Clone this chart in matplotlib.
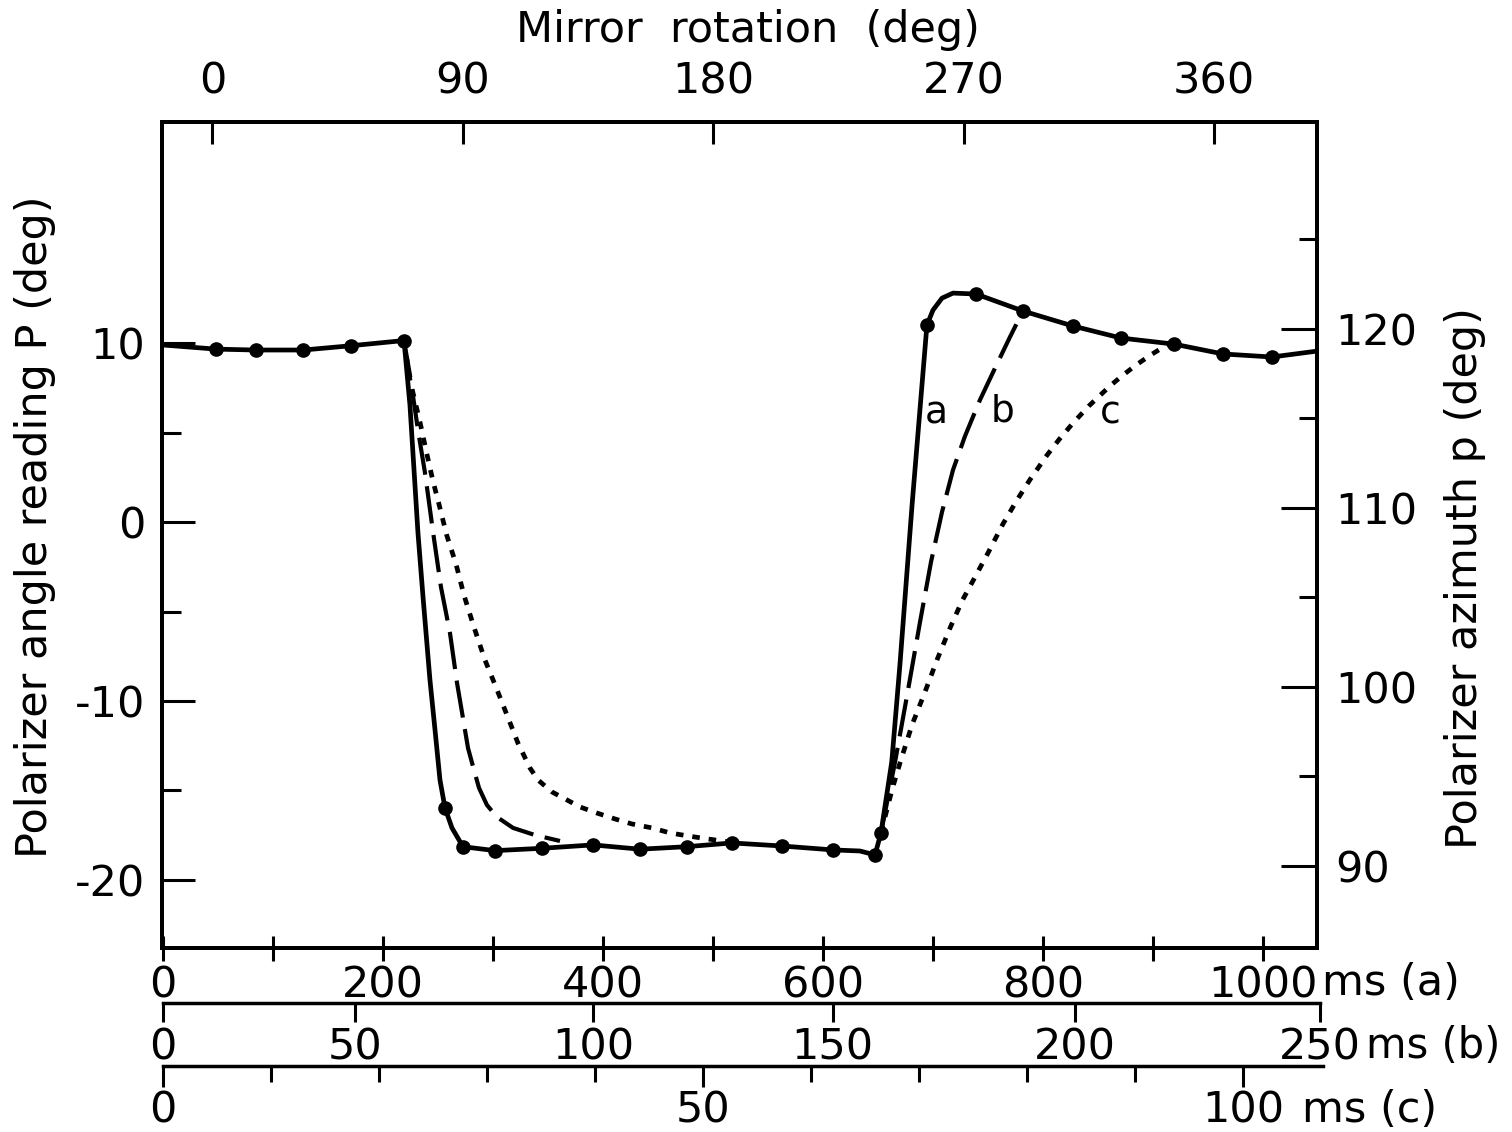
import matplotlib
matplotlib.use('Agg')
import matplotlib.pyplot as plt
from matplotlib.ticker import FixedLocator, NullFormatter

plt.rcParams['font.family'] = ['DejaVu Sans']
plt.rcParams['axes.unicode_minus'] = False

# ---------------- data (time in ms for curve a scale, P in deg) ----------------
a_t = [0, 48.2, 84.3, 127.5, 170.9, 219.1, 224.5, 231.8, 236.4, 242.7, 247.3, 251.8,
       256.4, 262.7, 272.7, 301.8, 344.3, 390.9, 433.6, 476.1, 517.0, 562.5, 609.1,
       633.6, 647.3, 652.7, 662.5, 670.0, 680.9, 694.5, 700.0, 708.2, 718.2, 739.1,
       781.8, 827.3, 870.9, 919.1, 963.6, 1008.2, 1049.1]
a_P = [9.89, 9.66, 9.61, 9.61, 9.85, 10.14, 6.54, -0.61, -4.19, -8.83, -11.62, -14.41,
       -15.98, -17.09, -18.14, -18.36, -18.23, -18.04, -18.28, -18.14, -17.93, -18.10,
       -18.32, -18.38, -18.60, -17.37, -13.41, -7.93, 0.89, 11.01, 11.84, 12.51, 12.79,
       12.74, 11.79, 10.95, 10.28, 9.94, 9.39, 9.22, 9.55]

a_dot_t = [48.2, 84.3, 127.5, 170.9, 219.1, 256.4, 272.7, 301.8, 344.3, 390.9, 433.6,
           476.1, 517.0, 562.5, 609.1, 647.3, 652.7, 694.5, 739.1, 781.8, 827.3, 870.9,
           919.1, 963.6, 1008.2]
a_dot_P = [9.66, 9.61, 9.61, 9.85, 10.14, -15.98, -18.14, -18.36, -18.23, -18.04, -18.28,
           -18.14, -17.93, -18.10, -18.32, -18.60, -17.37, 11.01, 12.74, 11.79, 10.95,
           10.28, 9.94, 9.39, 9.22]

b_down_t = [219.1, 224.5, 231.8, 238.2, 245.5, 252.7, 260.9, 267.3, 272.7, 277.3, 282.7,
            287.3, 294.5, 303.6, 318.2, 338.2, 360.9]
b_down_P = [10.14, 8.21, 5.14, 2.74, -0.56, -3.63, -6.20, -8.99, -10.95, -12.63, -13.85,
            -14.86, -15.81, -16.48, -17.09, -17.49, -17.82]
b_up_t = [652.7, 665.5, 677.3, 688.2, 698.2, 708.2, 718.2, 729.1, 742.7, 756.4, 770.0, 781.8]
b_up_P = [-17.37, -13.41, -9.39, -5.59, -2.23, 0.56, 2.91, 4.80, 6.82, 8.60, 10.34, 11.79]

c_down_t = [219.1, 224.5, 233.6, 239.7, 245.2, 251.8, 257.9, 266.4, 273.6, 282.7, 292.7,
            302.7, 312.7, 322.7, 333.6, 340.9, 353.6, 365.5, 379.1, 394.5, 410.9, 426.4,
            444.5, 460.9, 477.3, 495.5, 515.5]
c_down_P = [10.14, 7.93, 5.59, 3.85, 2.35, 0.78, -0.73, -2.35, -4.08, -5.87, -7.71,
            -9.22, -10.78, -12.35, -13.74, -14.41, -15.08, -15.47, -15.92, -16.26, -16.59,
            -16.87, -17.09, -17.37, -17.54, -17.71, -17.88]
c_up_t = [652.7, 662.7, 670.0, 680.9, 692.7, 703.6, 715.5, 726.4, 737.3, 750.0, 763.6,
          776.4, 788.2, 803.6, 814.5, 827.3, 841.8, 860.9, 872.7, 885.5, 897.3, 907.0, 915.0]
c_up_P = [-17.37, -14.97, -13.46, -11.34, -9.50, -7.71, -5.92, -4.41, -3.18, -1.73, -0.11,
          1.23, 2.37, 3.73, 4.60, 5.53, 6.49, 7.60, 8.21, 8.81, 9.31, 9.68, 9.96]

curve_labels = ['a', 'b', 'c']
curve_label_t = [703.4, 763.4, 860.9]
curve_label_P = [6.05, 6.16, 6.05]

# axis scales / ticks
left_major = [-20, -10, 0, 10]
left_minor = [-15, -5, 5]
right_offset = 109.2            # p = P + offset
right_major = [90, 100, 110, 120]
right_minor = [95, 105, 115, 125]
a_major = [0, 200, 400, 600, 800, 1000]
a_minor = [100, 300, 500, 700, 900]
mirror_ticks = [0, 90, 180, 270, 360]
mirror_zero_ms = 45.0
mirror_full_ms = 910.5          # ms (a) per 360 deg
b_tick_pos = [0, 174.5, 391, 609, 829, 1052]   # positions in ms (a) units
b_tick_labels = ['0', '50', '100', '150', '200', '250']
c_major = [0, 50, 100]
c_minor = [10, 20, 30, 40, 60, 70, 80, 90]

# ---------------- figure ----------------
W, H = 1512, 1132
fig = plt.figure(figsize=(W / 100, H / 100), dpi=100)
fig.patch.set_facecolor('white')


def fx(px):
    return px / W


def fy(py):
    return 1 - py / H


FS = 31
LW_SP = 2.8

ax = fig.add_axes([fx(162), fy(948), fx(1317) - fx(162), fy(122) - fy(948)])
ax.set_xlim(-0.9, 1049.1)
ax.set_ylim(-23.8, 22.35)
for s in ax.spines.values():
    s.set_linewidth(LW_SP)

# curves
ax.plot(c_down_t, c_down_P, color='black', lw=3.4, ls=(0, (1.6, 1.9)))
ax.plot(c_up_t, c_up_P, color='black', lw=3.4, ls=(0, (1.6, 1.9)))
ax.plot(b_down_t, b_down_P, color='black', lw=3.0, ls=(0, (9, 2.8)))
ax.plot(b_up_t, b_up_P, color='black', lw=3.0, ls=(0, (9, 2.8)))
ax.plot(a_t, a_P, color='black', lw=3.4, solid_joinstyle='round')
ax.plot(a_dot_t, a_dot_P, 'o', color='black', ms=9.5)

for lab, t, p in zip(curve_labels, curve_label_t, curve_label_P):
    ax.text(t, p, lab, fontsize=27, ha='center', va='center')

# left axis ticks
ax.yaxis.set_major_locator(FixedLocator(left_major))
ax.yaxis.set_minor_locator(FixedLocator(left_minor))
ax.tick_params(axis='y', which='major', direction='in', length=24, width=2.2,
               labelsize=FS, pad=12, right=False)
ax.tick_params(axis='y', which='minor', direction='in', length=14, width=2.2, right=False)

# bottom (a) ticks
ax.xaxis.set_major_locator(FixedLocator(a_major))
ax.xaxis.set_minor_locator(FixedLocator(a_minor))
ax.tick_params(axis='x', which='both', direction='inout', length=18, width=2.2,
               labelsize=FS, pad=3, top=False)

# right axis
ax2 = ax.twinx()
ax2.set_ylim(-23.8 + right_offset, 22.35 + right_offset)
ax2.yaxis.set_major_locator(FixedLocator(right_major))
ax2.yaxis.set_minor_locator(FixedLocator(right_minor))
ax2.tick_params(axis='y', which='major', direction='in', length=26, width=2.2,
                labelsize=FS, pad=13)
ax2.tick_params(axis='y', which='minor', direction='in', length=13, width=2.2)
for s in ax2.spines.values():
    s.set_linewidth(LW_SP)

# top mirror rotation axis
secx = ax.secondary_xaxis('top', functions=(
    lambda t: (t - mirror_zero_ms) * 360.0 / mirror_full_ms,
    lambda d: d * mirror_full_ms / 360.0 + mirror_zero_ms))
secx.set_xticks(mirror_ticks)
secx.set_xticklabels([str(v) for v in mirror_ticks])
secx.tick_params(axis='x', direction='in', length=16, width=2.2, labelsize=FS, pad=14)
secx.spines['top'].set_linewidth(LW_SP)

# (b) axis
axb = fig.add_axes([fx(163), fy(1003), fx(1320) - fx(163), 0.0001])
axb.set_xlim(0, 1052)
axb.set_facecolor('none')
for k in ['top', 'left', 'right']:
    axb.spines[k].set_visible(False)
axb.spines['bottom'].set_linewidth(2.5)
axb.set_yticks([])
axb.xaxis.set_major_locator(FixedLocator(b_tick_pos))
axb.set_xticklabels(b_tick_labels)
axb.tick_params(axis='x', direction='out', length=14, width=2.2, labelsize=FS, pad=3)

# (c) axis
axc = fig.add_axes([fx(163), fy(1066), fx(1323) - fx(163), 0.0001])
axc.set_xlim(0, 107.4)
axc.set_facecolor('none')
for k in ['top', 'left', 'right']:
    axc.spines[k].set_visible(False)
axc.spines['bottom'].set_linewidth(2.5)
axc.set_yticks([])
axc.xaxis.set_major_locator(FixedLocator(c_major))
axc.xaxis.set_minor_locator(FixedLocator(c_minor))
axc.xaxis.set_minor_formatter(NullFormatter())
axc.set_xticklabels([str(v) for v in c_major])
axc.tick_params(axis='x', which='major', direction='out', length=15, width=2.2,
                labelsize=FS, pad=2)
axc.tick_params(axis='x', which='minor', direction='out', length=11.5, width=2.2)

# unit labels
fig.text(fx(1322), fy(995), 'ms (a)', fontsize=FS, ha='left', va='baseline')
fig.text(fx(1366), fy(1058), 'ms (b)', fontsize=30, ha='left', va='baseline')
fig.text(fx(1302), fy(1122), 'ms (c)', fontsize=FS, ha='left', va='baseline')

# axis titles
fig.text(fx(748), fy(30), 'Mirror  rotation  (deg)', fontsize=FS, ha='center', va='center')
fig.text(fx(35), fy(527), 'Polarizer angle reading P (deg)', fontsize=FS, rotation=90,
         ha='center', va='center')
fig.text(fx(1465), fy(578), 'Polarizer azimuth p (deg)', fontsize=FS, rotation=90,
         ha='center', va='center')

fig.savefig('out.png', dpi=100, facecolor='white')
